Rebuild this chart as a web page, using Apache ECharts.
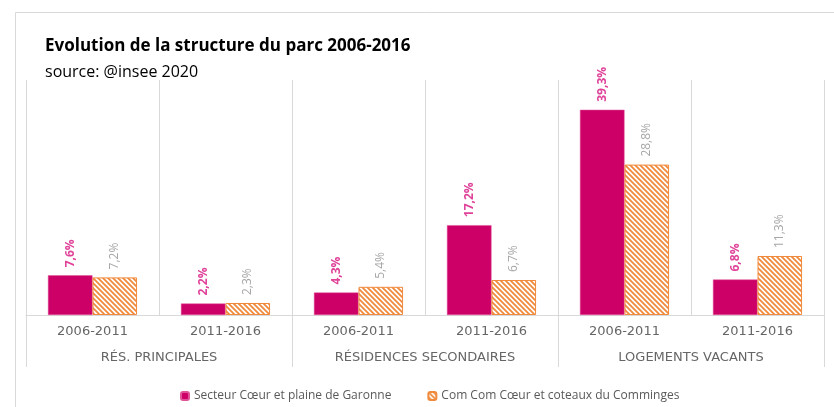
<!DOCTYPE html>
<html><head><meta charset="utf-8">
<script src="https://cdn.jsdelivr.net/npm/echarts@6/dist/echarts.min.js"></script>
<style>html,body{margin:0;padding:0;background:#fff}#c{width:834px;height:407px}</style>
</head><body><div id="c"></div>
<script>
const periods = ['2006-2011','2011-2016','2006-2011','2011-2016','2006-2011','2011-2016'];
const groups = ['RÉS. PRINCIPALES','RÉSIDENCES SECONDAIRES','LOGEMENTS VACANTS'];
const seriesNames = ['Secteur Cœur et plaine de Garonne','Com Com Cœur et coteaux du Comminges'];
const secteur = [7.6, 2.2, 4.3, 17.2, 39.3, 6.8];
const comcom = [7.2, 2.3, 5.4, 6.7, 28.8, 11.3];

function hatch(){
  const s = 5;
  const cv = document.createElement('canvas');
  cv.width = s; cv.height = s;
  const g = cv.getContext('2d');
  g.fillStyle = '#ffffff'; g.fillRect(0,0,s,s);
  g.strokeStyle = '#F08A3C'; g.lineWidth = 1.8;
  g.beginPath();
  g.moveTo(-1,-1); g.lineTo(s+1,s+1);
  g.moveTo(-1,s-1); g.lineTo(1,s+1);
  g.moveTo(s-1,-1); g.lineTo(s+1,1);
  g.stroke();
  return {image: cv, repeat: 'repeat'};
}
const fmt = p => String(p.value).replace('.', ',') + '%';
const chart = echarts.init(document.getElementById('c'));
chart.setOption({
  animation: false,
  textStyle: {fontFamily: 'Open Sans'},
  graphic: [{type:'rect', left:13, top:10, shape:{width:900, height:500}, style:{fill:'none', stroke:'#d9d9d9', lineWidth:1}, silent:true, z:-10}],
  title: [
    {text:'Evolution de la structure du parc 2006-2016', left:40, top:33, textStyle:{fontSize:17, fontWeight:'bold', color:'#000', fontFamily:'Open Sans'}},
    {text:'source: @insee 2020', left:40, top:59, textStyle:{fontSize:16, fontWeight:'normal', color:'#000', fontFamily:'Open Sans'}}
  ],
  legend: {
    bottom: 0, left: 175, itemWidth: 8, itemHeight: 8, itemGap: 36,
    textStyle:{fontSize:12, color:'#595959', fontFamily:'Open Sans'},
    data: seriesNames
  },
  grid: {left:26, right:10, top:80, bottom:92},
  xAxis: [
    {type:'category', data: periods, position:'bottom',
     axisLine:{lineStyle:{color:'#d9d9d9'}}, axisTick:{show:false},
     splitLine:{show:true, lineStyle:{color:'#d9d9d9'}},
     axisLabel:{margin:10, fontSize:13, color:'#666666', fontFamily:'DejaVu Sans'}},
    {type:'category', data: groups, position:'bottom',
     axisLine:{show:false}, axisTick:{show:true, length:52, lineStyle:{color:'#d9d9d9'}},
     axisLabel:{margin:36, fontSize:13, color:'#666666', fontFamily:'DejaVu Sans'}}
  ],
  yAxis: {type:'value', min:0, max:45, show:false, splitLine:{show:false}},
  series: [
    {name: seriesNames[0], type:'bar', data: secteur, barGap:'0%', barCategoryGap:'33%',
     itemStyle:{color:'#CC0066', borderColor:'#E0559A', borderWidth:0.5},
     label:{show:true, position:'top', rotate:90, align:'left', verticalAlign:'middle', distance:8,
       formatter: fmt, color:'#E0449A', fontWeight:'bold', fontSize:12, fontFamily:'Open Sans'}},
    {name: seriesNames[1], type:'bar', data: comcom,
     itemStyle:{color: hatch(), borderColor:'#F08A3C', borderWidth:1},
     label:{show:true, position:'top', rotate:90, align:'left', verticalAlign:'middle', distance:8,
       formatter: fmt, color:'#A6A6A6', fontSize:12, fontFamily:'Open Sans'}}
  ]
});
</script></body></html>
